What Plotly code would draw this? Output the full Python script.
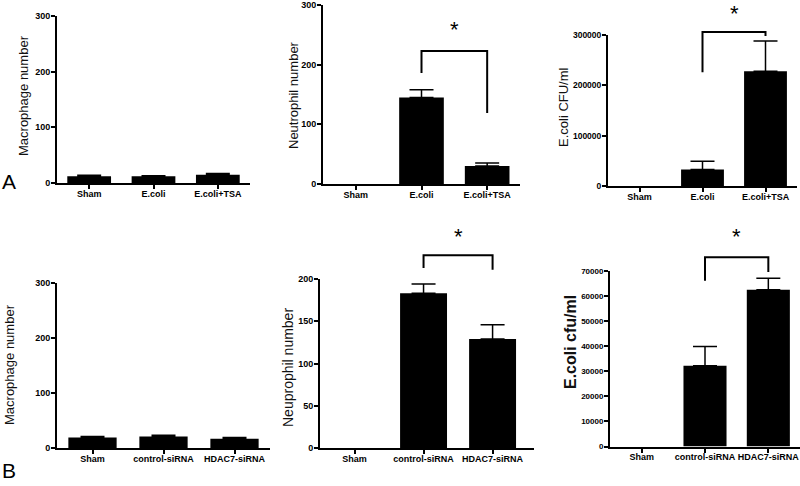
import plotly.graph_objects as go

W, H = 800, 486

# ---- data ----
groups_a = ["Sham", "E.coli", "E.coli+TSA"]
macro_a = [12, 12, 15]
macro_a_err = [2, 1, 2]
neut_a = [0, 145, 30]
neut_a_err = [0, 13, 5]
cfu_a = [0, 33000, 228000]
cfu_a_err = [0, 16000, 60000]

groups_b = ["Sham", "control-siRNA", "HDAC7-siRNA"]
macro_b = [19, 21, 17]
macro_b_err = [2, 2, 2]
neut_b = [0, 183, 129]
neut_b_err = [0, 11, 17]
cfu_b = [0, 32200, 62400]
cfu_b_err = [0, 7600, 4600]

# significance brackets: left end, top, right end (data units) and star height
sig_neut_a = [186, 223, 119]
sig_cfu_a = [226000, 306000, 298000]
sig_neut_b = [213, 228, 211]
sig_cfu_b = [66000, 75400, 69500]
star_y = [259, 343500, 250, 83700]


def xd(a, b):
    return [a / W, b / W]


def yd(bottom, top):
    return [1 - bottom / H, 1 - top / H]


# groups, values, errors, title, ymax, dtick, x px, y px, title font (size, bold), title centre px, x range end, y tick size
panels = [
    (groups_a, macro_a, macro_a_err, "Macrophage number", 300, 100, (57, 250), (183, 16), (13, False), (23, 96), 2.5, 9),
    (groups_a, neut_a, neut_a_err, "Neutrophil number", 300, 100, (323, 520), (184, 5), (13, False), (293, 95), 2.5, 9),
    (groups_a, cfu_a, cfu_a_err, "E.coli CFU/ml", 300000, 100000, (608, 797), (186, 35), (13, False), (564, 107), 2.5, 8.5),
    (groups_b, macro_b, macro_b_err, "Macrophage number", 300, 100, (57, 270), (448, 283), (13, False), (9, 365), 2.5, 9),
    (groups_b, neut_b, neut_b_err, "Neuprophil number", 200, 50, (320, 534), (448, 279), (14, False), (288, 368), 2.6, 9),
    (groups_b, cfu_b, cfu_b_err, "E.coli cfu/ml", 70000, 10000, (610, 800), (446.5, 270.7), (16, True), (570, 342), 2.5, 8),
]

tick_font = dict(family="Liberation Sans", size=9, color="black", weight="bold")

fig = go.Figure()
layout = dict(
    width=W, height=H,
    margin=dict(l=0, r=0, t=0, b=0),
    paper_bgcolor="white", plot_bgcolor="rgba(0,0,0,0)",
    showlegend=False,
)

for i, (g, vals, errs, title, ymax, dtick, xpx, ypx, tf, tpos, xend, ysize) in enumerate(panels, start=1):
    sfx = "" if i == 1 else str(i)
    # empty (zero) groups get no bar and no error cap
    shown = [v if v > 0 else None for v in vals]
    fig.add_trace(go.Bar(
        x=g, y=shown, width=0.68,
        marker=dict(color="black", line=dict(width=0)),
        error_y=dict(type="data", symmetric=False, array=errs,
                     arrayminus=[0] * len(errs),
                     color="black", thickness=1.5, width=12),
        xaxis="x" + sfx, yaxis="y" + sfx,
    ))
    layout["xaxis" + sfx] = dict(
        domain=xd(*xpx), anchor="y" + sfx, type="category",
        range=[-0.5, xend], showline=True, linewidth=2, linecolor="black",
        ticks="outside", ticklen=4, tickwidth=1.5, tickcolor="black",
        ticklabelstandoff=-3,
        showgrid=False, zeroline=False, tickfont=tick_font, automargin=False,
    )
    layout["yaxis" + sfx] = dict(
        domain=yd(*ypx), anchor="x" + sfx, range=[0, ymax], dtick=dtick,
        tickformat="d", showline=True, linewidth=2, linecolor="black",
        ticks="outside", ticklen=4, tickwidth=1.5, tickcolor="black",
        ticklabelstandoff=-1,
        showgrid=False, zeroline=False, tickfont=dict(tick_font, size=ysize),
        automargin=False,
    )
    fig.add_annotation(
        x=tpos[0] / W, y=1 - tpos[1] / H, xref="paper", yref="paper",
        xanchor="center", yanchor="middle", textangle=-90, showarrow=False,
        text=title,
        font=dict(family="Liberation Sans", size=tf[0], color="#111",
                  weight="bold" if tf[1] else "normal"),
    )

# hidden taller axes so brackets can sit above the plotted range
sig_panels = [(2, sig_neut_a, 0.0), (3, sig_cfu_a, 0.0), (5, sig_neut_b, 218), (6, sig_cfu_b, 218)]
for k, (pi, sig, top_px) in enumerate(sig_panels):
    g, ymax, ypx = panels[pi - 1][0], panels[pi - 1][4], panels[pi - 1][7]
    bottom, top = ypx
    span = ymax * (bottom - top_px) / (bottom - top)
    ref = "y" + str(7 + k)
    layout["yaxis" + str(7 + k)] = dict(domain=yd(bottom, top_px), anchor="x" + str(pi),
                                        range=[0, span], visible=False)
    fig.add_trace(go.Scatter(
        x=[g[1], g[1], g[2], g[2]], y=[sig[0], sig[1], sig[1], sig[2]],
        mode="lines", line=dict(color="black", width=2),
        xaxis="x" + str(pi), yaxis=ref, hoverinfo="skip",
    ))
    fig.add_annotation(x=1.5, y=star_y[k], xref="x" + str(pi), yref=ref,
                       text="*", showarrow=False,
                       font=dict(family="Liberation Sans", size=22, color="black"))

for letter, ypos in [("A", 182), ("B", 470)]:
    fig.add_annotation(x=0.0, y=1 - ypos / H, xref="paper", yref="paper",
                       xanchor="left", yanchor="middle", text=letter, showarrow=False,
                       font=dict(family="Liberation Sans", size=21, color="black"))

fig.update_layout(**layout)
fig.write_html("out.html", config={"displayModeBar": False},
               post_script="document.body.style.margin='0';")
